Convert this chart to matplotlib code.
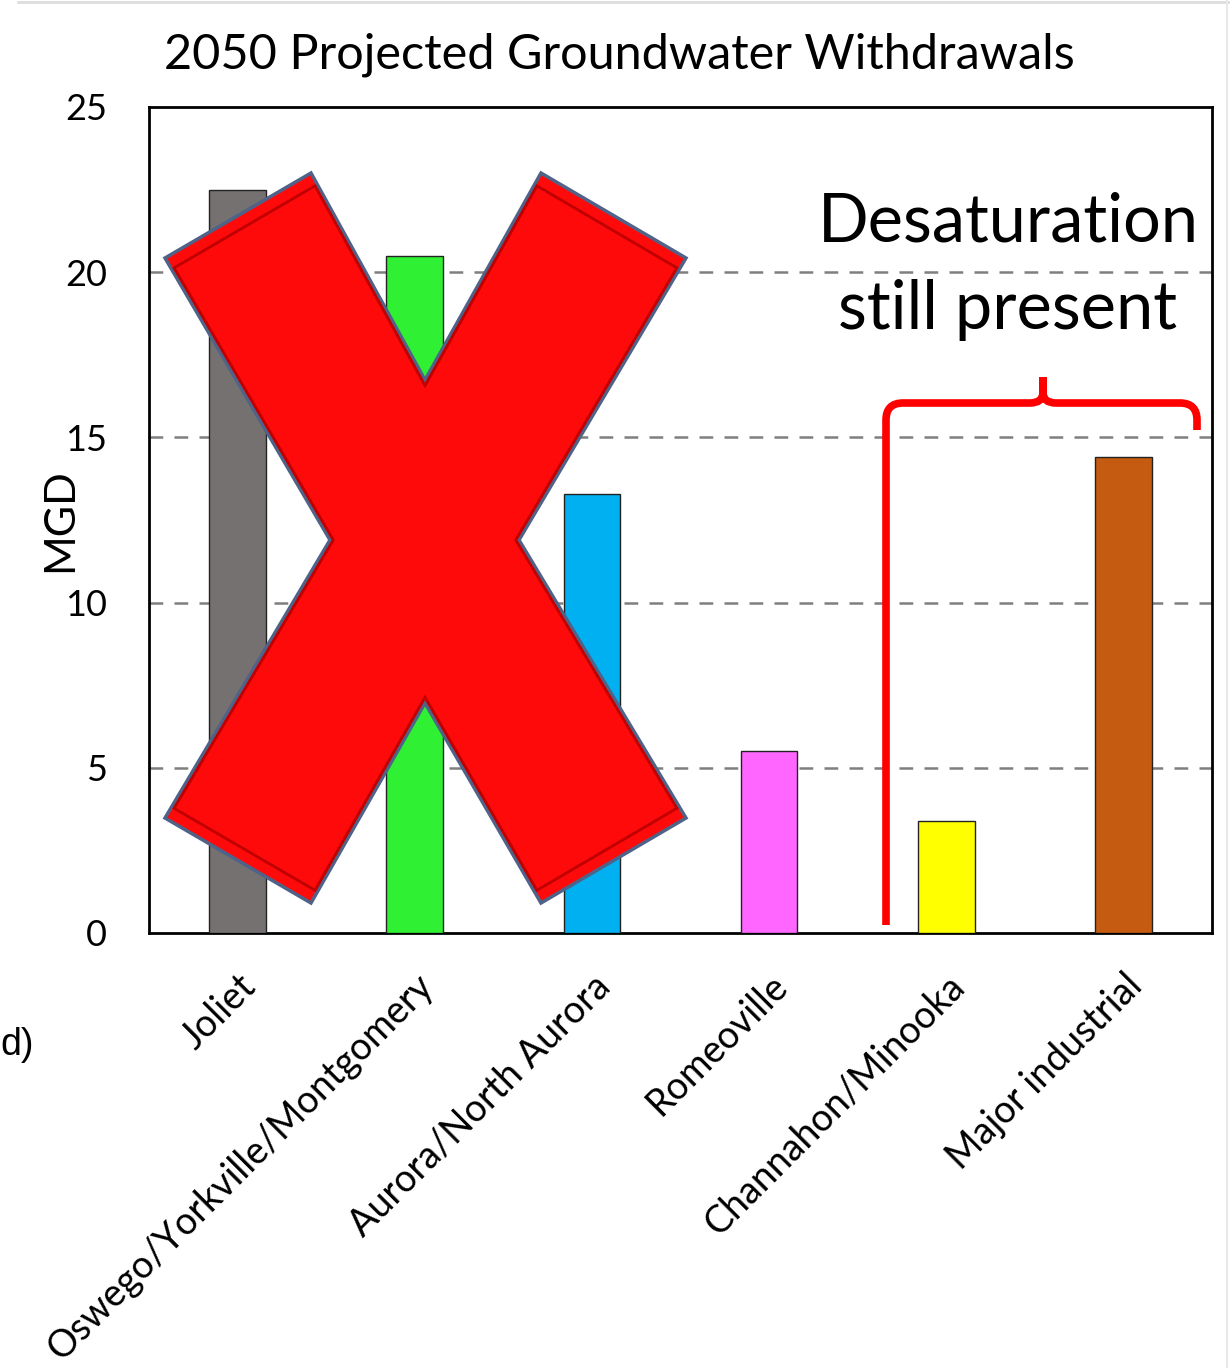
import numpy as np
import matplotlib.pyplot as plt
from matplotlib.patches import Polygon
from matplotlib.path import Path
from matplotlib.patches import PathPatch

plt.rcParams['font.family'] = ['Lato', 'DejaVu Sans']

# data
places = ['Joliet', 'Oswego/Yorkville/Montgomery', 'Aurora/North Aurora',
          'Romeoville', 'Channahon/Minooka', 'Major industrial']
mgd = [22.5, 20.5, 13.3, 5.5, 3.4, 14.4]
bar_colors = ['#767171', '#2FF033', '#00B0F0', '#FF66FF', '#FFFF00', '#C55A11']
yticks = [0, 5, 10, 15, 20, 25]

W, H = 1230, 1368
fig = plt.figure(figsize=(W/100, H/100), dpi=100)
ax = fig.add_axes([149/W, 1-933/H, 1063/W, 826/H])

x = np.arange(len(places))
ax.bar(x, mgd, width=0.32, color=bar_colors, edgecolor='#222222', linewidth=1, zorder=3)
ax.set_xlim(-0.5, len(places)-0.5)
ax.set_ylim(0, 25)
ax.set_yticks(yticks)
ax.set_yticklabels([str(t) for t in yticks], fontsize=26)
ax.tick_params(axis='y', length=0, pad=30)
ax.tick_params(axis='x', length=0, pad=25)
ax.set_xticks(x)
ax.set_xticklabels(places, rotation=45, ha='right', va='top', rotation_mode='anchor', fontsize=27)
for t in yticks[1:-1]:
    ax.axhline(t, color='#7F7F7F', ls=(0, (5.5, 4.5)), lw=1.8, zorder=1)
for s in ax.spines.values():
    s.set_linewidth(2)
ax.set_ylabel('MGD', fontsize=31)
ax.yaxis.set_label_coords((79-149)/1063, 0.5)

# overlay in pixel coordinates
ov = fig.add_axes([0, 0, 1, 1], zorder=10)
ov.set_xlim(0, W)
ov.set_ylim(H, 0)
ov.axis('off')
ov.patch.set_alpha(0)

ov.text(619, 55, '2050 Projected Groundwater Withdrawals', fontsize=35, ha='center', va='center')

# red X
xpts = [(165, 258), (311, 173), (425, 380), (541, 173), (686, 258), (519, 540),
        (686, 818), (541, 903), (425, 703), (311, 903), (165, 818), (330, 540)]
ov.add_patch(Polygon(xpts, closed=True, facecolor='#FF0A0A', edgecolor='#4F6288', lw=2.5, zorder=2))
cx, cy = 425, 540
inner = [(cx + (px-cx)*0.965, cy + (py-cy)*0.965) for px, py in xpts]
ov.add_patch(Polygon(inner, closed=True, facecolor='none', edgecolor='#C00000', lw=2, zorder=3))

# brace
verts = [(886, 925), (886, 420), (886, 403), (903, 403), (1030, 403), (1043, 403), (1043, 392),
         (1043, 377), (1043, 392), (1043, 403), (1056, 403), (1180, 403), (1197, 403), (1197, 420), (1197, 430)]
codes = [Path.MOVETO, Path.LINETO, Path.CURVE3, Path.CURVE3, Path.LINETO, Path.CURVE3, Path.CURVE3,
         Path.LINETO, Path.LINETO, Path.CURVE3, Path.CURVE3, Path.LINETO, Path.CURVE3, Path.CURVE3, Path.LINETO]
ov.add_patch(PathPatch(Path(verts, codes), facecolor='none', edgecolor='#FF0000', lw=5.5, capstyle='butt', zorder=2))

ov.text(1008, 222, 'Desaturation', fontsize=48, ha='center', va='center')
ov.text(1008, 310, 'still present', fontsize=48, ha='center', va='center')
ov.text(34, 1045, 'd)', fontsize=27, ha='right', va='center', family='Liberation Sans')

# faint frame lines from the source screenshot
ov.plot([18, W], [2, 2], color='#DDDDDD', lw=2)
ov.plot([1227, 1227], [0, H], color='#E8E8E8', lw=1.5)

fig.savefig('out.png', dpi=100)
